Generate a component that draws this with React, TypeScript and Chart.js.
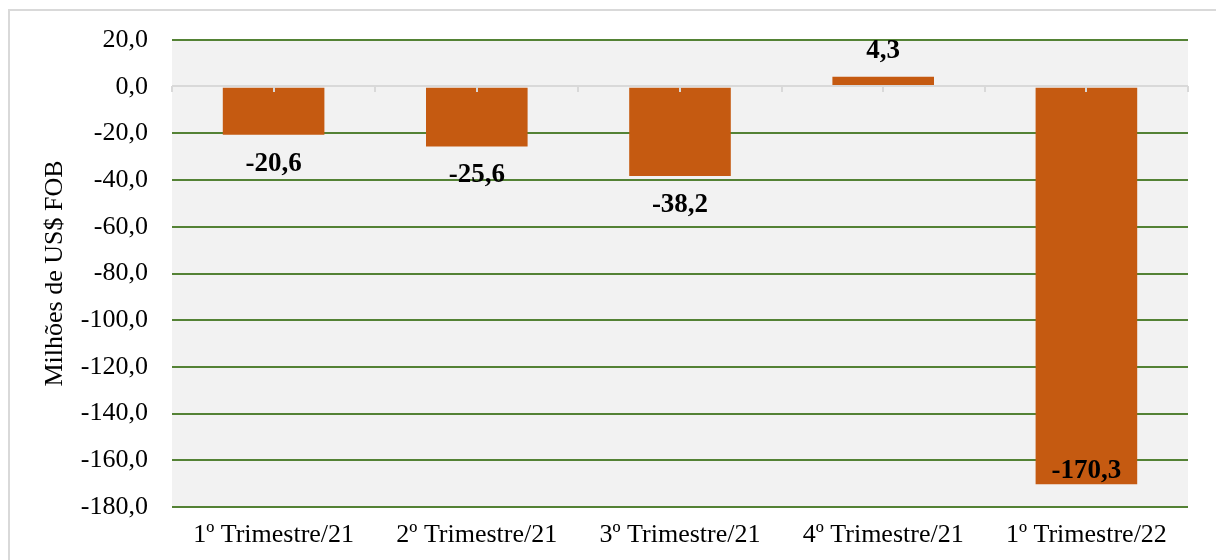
import { useEffect, useRef } from "react";
import { Chart, registerables } from "chart.js";

Chart.register(...registerables);

const categories = [
  "1º Trimestre/21",
  "2º Trimestre/21",
  "3º Trimestre/21",
  "4º Trimestre/21",
  "1º Trimestre/22",
];
const saldo = [-20.6, -25.6, -38.2, 4.3, -170.3];
const yMin = -180;
const yMax = 20;
const yStep = 20;
const yTitle = "Milhões de US$ FOB";

const SERIF = "'Liberation Serif', 'Times New Roman', serif";
const fmt = (v: number) => v.toFixed(1).replace(".", ",");

const decorPlugin = {
  id: "decor",
  beforeDraw(chart: any) {
    const { ctx, chartArea: a } = chart;
    ctx.save();
    ctx.fillStyle = "#f2f2f2";
    ctx.fillRect(a.left, a.top, a.right - a.left, a.bottom - a.top);
    ctx.restore();
  },
  afterDatasetsDraw(chart: any) {
    const { ctx, chartArea: a } = chart;
    const yScale = chart.scales.y;
    const y0 = Math.round(yScale.getPixelForValue(0));
    ctx.save();
    // zero axis line
    ctx.strokeStyle = "#d9d9d9";
    ctx.lineWidth = 2;
    ctx.beginPath();
    ctx.moveTo(a.left, y0 - 1);
    ctx.lineTo(a.right, y0 - 1);
    ctx.stroke();
    // tick marks at every half category
    const n = categories.length;
    const step = (a.right - a.left) / (n * 2);
    ctx.beginPath();
    for (let k = 0; k <= n * 2; k++) {
      const x = Math.round(a.left + k * step);
      ctx.moveTo(x, y0 - 1);
      ctx.lineTo(x, y0 + 5);
    }
    ctx.stroke();

    // data labels
    const meta = chart.getDatasetMeta(0);
    ctx.fillStyle = "#000";
    ctx.font = `bold 27px ${SERIF}`;
    ctx.textAlign = "center";
    ctx.textBaseline = "middle";
    meta.data.forEach((bar: any, i: number) => {
      const v = saldo[i];
      let ly: number;
      if (v >= 0) {
        ly = bar.y - 26;
      } else {
        ly = bar.y + 29;
        if (ly + 12 > a.bottom) ly = bar.y - 13;
      }
      ctx.fillText(fmt(v), bar.x, ly);
    });

    // y-axis title
    ctx.font = `26px ${SERIF}`;
    ctx.textBaseline = "alphabetic";
    ctx.translate(52, (a.top + a.bottom) / 2);
    ctx.rotate(-Math.PI / 2);
    ctx.fillText(yTitle, 0, 0);
    ctx.restore();
  },
};

export default function App() {
  const ref = useRef<HTMLCanvasElement | null>(null);

  useEffect(() => {
    if (!ref.current) return;
    const chart = new Chart(ref.current, {
      type: "bar",
      data: {
        labels: categories,
        datasets: [
          {
            data: saldo,
            backgroundColor: "#c55a11",
            borderWidth: 0,
            barPercentage: 0.5,
            categoryPercentage: 1,
          },
        ],
      },
      options: {
        animation: false,
        responsive: false,
        devicePixelRatio: 1,
        layout: { padding: { left: 0, right: 28, top: 29, bottom: 0 } },
        plugins: {
          legend: { display: false },
          tooltip: { enabled: false },
          title: { display: false },
        },
        scales: {
          x: {
            grid: { display: false },
            border: { display: false },
            ticks: {
              color: "#000",
              font: { family: SERIF, size: 26 },
              padding: 5,
              maxRotation: 0,
              autoSkip: false,
            },
            afterFit(scale: any) {
              scale.height = 53;
              scale.paddingLeft = 0;
              scale.paddingRight = 0;
            },
          },
          y: {
            min: yMin,
            max: yMax,
            border: { display: false },
            grid: {
              drawTicks: false,
              lineWidth: 2,
              color: (c: any) => (c.tick && c.tick.value === 0 ? "rgba(0,0,0,0)" : "#548235"),
            },
            ticks: {
              stepSize: yStep,
              color: "#000",
              font: { family: SERIF, size: 26 },
              padding: 24,
              callback: (v: any) => fmt(Number(v)),
            },
            afterFit(scale: any) {
              scale.width = 162;
              scale.paddingTop = 0;
              scale.paddingBottom = 0;
            },
          },
        },
      },
      plugins: [decorPlugin],
    });
    return () => chart.destroy();
  }, []);

  return (
    <div
      style={{
        position: "fixed",
        left: 8,
        top: 9,
        width: 1206,
        height: 549,
        borderLeft: "2px solid #d9d9d9",
        borderTop: "2px solid #d9d9d9",
        background: "#fff",
      }}
    >
      <canvas ref={ref} width={1206} height={549} style={{ display: "block" }} />
    </div>
  );
}
